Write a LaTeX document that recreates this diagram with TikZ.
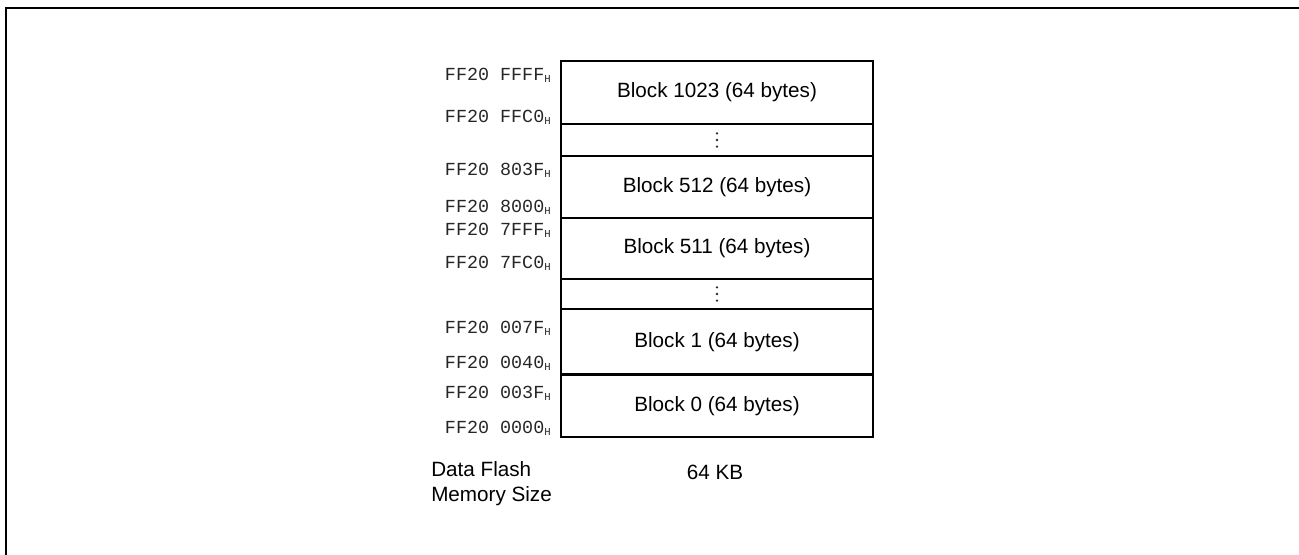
\documentclass[tikz,border=0pt]{standalone}
\usepackage{fontspec}
\setmainfont{Liberation Sans}
\newfontfamily\addrfont{Liberation Mono}
\usetikzlibrary{positioning}

\newcommand{\hexaddr}[1]{#1\raisebox{-1.3pt}{\fontsize{8}{8}\selectfont H}}

\begin{document}
\begin{tikzpicture}[x=0.75pt, y=-0.75pt,
    blk/.style={draw, line width=1.9pt, minimum width=312*0.75pt, inner sep=0pt,
      font=\fontsize{15.5}{18}\selectfont},
    addr/.style={anchor=east, inner sep=0pt, text=black!85,
      font=\addrfont\fontsize{13.8}{14}\selectfont},
    lbl/.style={inner sep=0pt, font=\fontsize{15.5}{18.75}\selectfont}]
    \useasboundingbox (0,0) rectangle (1299,555);

    % frame
    \draw[line width=1.5pt] (1299,8.5) -- (5.5,8.5) -- (5.5,555);

    % blocks
    \node[blk, minimum height=63*0.75pt] (b1023) at (717,92.5) {Block 1023 (64 bytes)};
    \node[blk, minimum height=32*0.75pt] (gapA) at (717,140) {};
    \node[blk, minimum height=62*0.75pt] (b512) at (717,187) {Block 512 (64 bytes)};
    \node[blk, minimum height=61*0.75pt] (b511) at (717,248.5) {Block 511 (64 bytes)};
    \node[blk, minimum height=30*0.75pt] (gapB) at (717,294) {};
    \node[blk, minimum height=65.5*0.75pt] (b1) at (717,341.75) {Block 1 (64 bytes)};
    \node[blk, minimum height=62.5*0.75pt] (b0) at (717,405.75) {Block 0 (64 bytes)};

    % dots in the gaps
    \foreach \g in {gapA,gapB}
      \foreach \d in {-4.9pt,0pt,4.9pt}
        \fill[black!85] ([yshift=\d]\g.center) circle[radius=0.95pt];

    % addresses
    \node[addr] (aFFFF) at (551,75) {\hexaddr{FF20 FFFF}};
    \node[addr] (aFFC0) at (551,117) {\hexaddr{FF20 FFC0}};
    \node[addr] (a803F) at (551,170) {\hexaddr{FF20 803F}};
    \node[addr] (a8000) at (551,207) {\hexaddr{FF20 8000}};
    \node[addr] (a7FFF) at (551,230) {\hexaddr{FF20 7FFF}};
    \node[addr] (a7FC0) at (551,263) {\hexaddr{FF20 7FC0}};
    \node[addr] (a007F) at (551,328) {\hexaddr{FF20 007F}};
    \node[addr] (a0040) at (551,363) {\hexaddr{FF20 0040}};
    \node[addr] (a003F) at (551,393) {\hexaddr{FF20 003F}};
    \node[addr] (a0000) at (551,428) {\hexaddr{FF20 0000}};

    % size
    \node[lbl, anchor=west, align=left] (sizelbl) at (431,484) {Data Flash\\Memory Size};
    \node[lbl] (sizeval) at (715,472) {64 KB};
\end{tikzpicture}
\end{document}
